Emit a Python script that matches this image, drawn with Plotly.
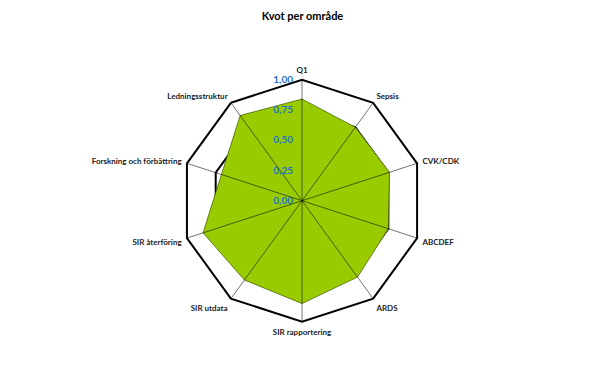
import plotly.graph_objects as go

categories = ["Q1", "Sepsis", "CVK/CDK", "ABCDEF", "ARDS", "SIR rapportering",
              "SIR utdata", "SIR återföring", "Forskning och förbättring", "Ledningsstruktur"]
values = [0.84, 0.75, 0.76, 0.75, 0.78, 0.85, 0.81, 0.86, 0.70, 0.87]
radial_ticks = [0, 0.25, 0.5, 0.75, 1.0]
title_text = "Kvot per område"

fig = go.Figure()

fig.add_trace(go.Scatterpolar(
    r=values + [values[0]],
    theta=categories + [categories[0]],
    mode="lines",
    fill="toself",
    fillcolor="#99CC00",
    line=dict(color="#4d6600", width=0.8),
    hoverinfo="skip",
    showlegend=False,
))

# spokes drawn on top of the fill
spoke_r = []
spoke_theta = []
for c in categories:
    spoke_r += [radial_ticks[0], radial_ticks[-1], None]
    spoke_theta += [c, c, None]
fig.add_trace(go.Scatterpolar(
    r=spoke_r, theta=spoke_theta, mode="lines",
    line=dict(color="rgba(0,0,0,0.55)", width=1),
    connectgaps=False, hoverinfo="skip", showlegend=False,
))

fig.update_layout(
    width=605, height=369,
    margin=dict(l=0, r=0, t=0, b=0),
    paper_bgcolor="white",
    separators=", ",
    title=dict(text=title_text, x=0.5, xanchor="center", y=0.955, yanchor="middle",
               font=dict(family="Lato", size=11, color="#000000", weight="bold")),
    polar=dict(
        domain=dict(x=[0.2992, 0.6992], y=[0.1282, 0.7840]),
        bgcolor="white",
        gridshape="linear",
        radialaxis=dict(
            range=[0, 1], tickvals=radial_ticks, tickformat=".2f",
            angle=90, side="counterclockwise", tickangle=90,
            showline=False, ticks="outside", ticklen=5, tickcolor="rgba(0,0,0,0)",
            showgrid=True, gridcolor="black", gridwidth=1.5,
            tickfont=dict(family="Lato", size=10, color="#1f6fcf", weight="bold"),
        ),
        angularaxis=dict(
            rotation=90, direction="clockwise",
            categoryorder="array", categoryarray=categories,
            showline=True, linecolor="black", linewidth=2,
            showgrid=False, ticks="outside", ticklen=3, tickcolor="rgba(0,0,0,0)",
            tickfont=dict(family="Lato", size=8, color="#222222", weight="bold"),
        ),
    ),
)

fig.write_html("out.html")
